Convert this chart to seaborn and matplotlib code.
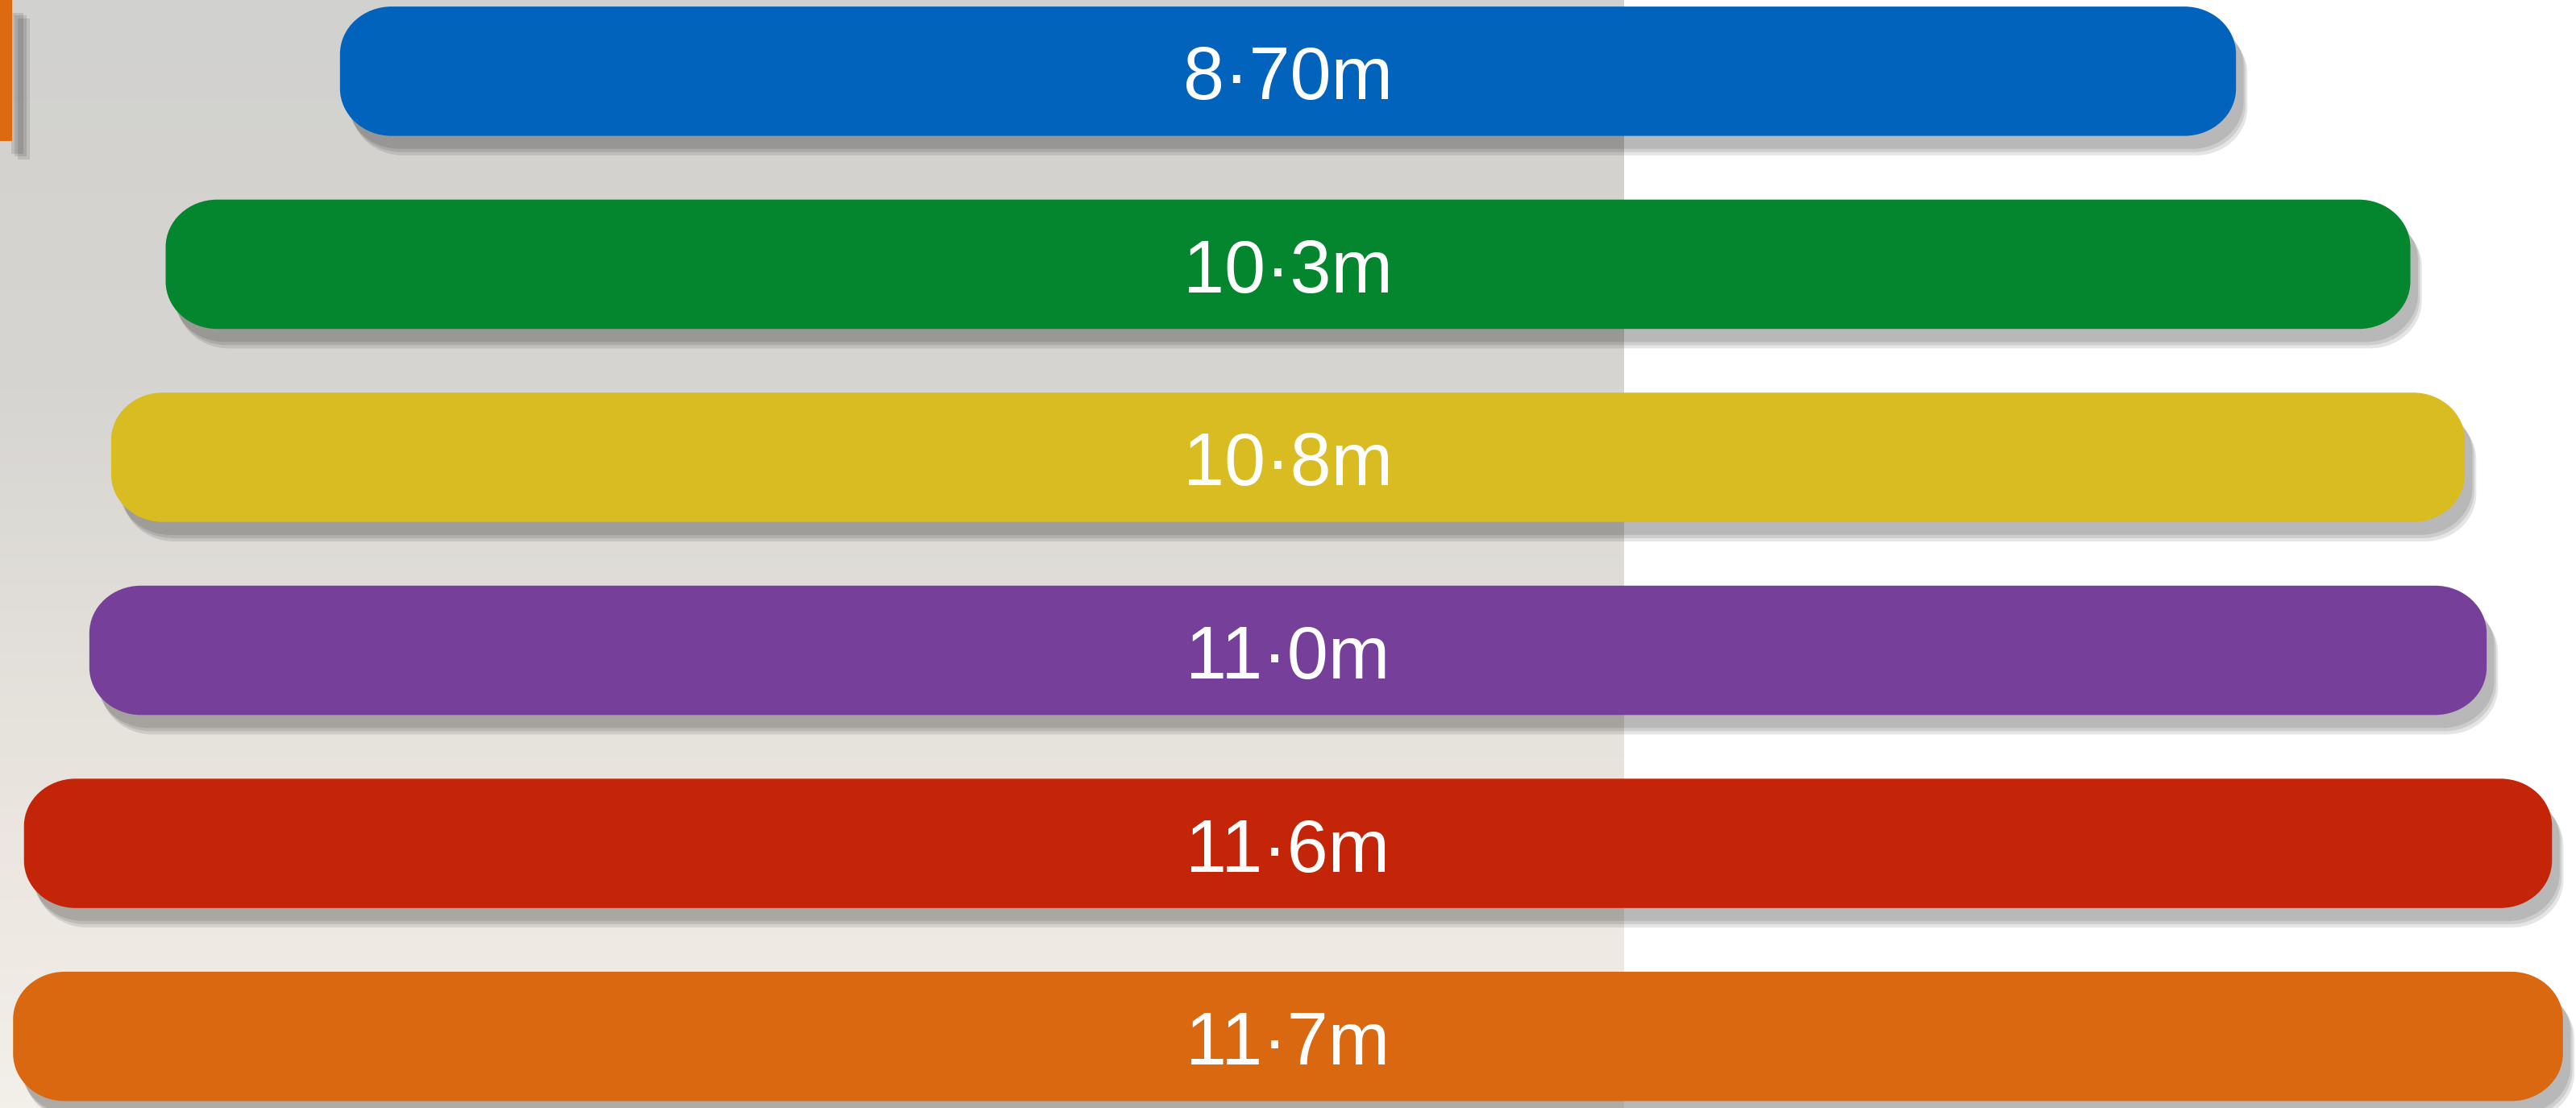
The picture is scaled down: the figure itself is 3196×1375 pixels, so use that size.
import numpy as np
import pandas as pd
import matplotlib
matplotlib.use('Agg')
import matplotlib.pyplot as plt
import matplotlib.patheffects as pe
from matplotlib.patches import PathPatch, Rectangle
from matplotlib.path import Path
from matplotlib.colors import LinearSegmentedColormap
import seaborn as sns

alturas = [8.70, 10.3, 10.8, 11.0, 11.6, 11.7]
etiquetas = ['8·70m', '10·3m', '10·8m', '11·0m', '11·6m', '11·7m']
colores = ['#0263bd', '#03862e', '#d9bb22', '#76409a', '#c42407', '#da6810']

df = pd.DataFrame({'altura': alturas, 'etiqueta': etiquetas})

sns.set_theme(style='white')
plt.rcParams['font.family'] = ['Liberation Sans', 'DejaVu Sans']

fig = plt.figure(figsize=(31.96, 13.75), dpi=100, facecolor='white')
ax = fig.add_axes([0, 0, 1, 1])

xmin, xmax = -5.91, 5.91
ymin, ymax = 5.371, -0.369


def redondeada(x0, y0, w, h, rx, ry):
    # rectangulo con esquinas de arco (beziers cubicas)
    k = 0.5523
    x1, y1 = x0 + w, y0 + h
    v = [(x0 + rx, y0), (x1 - rx, y0),
         (x1 - rx + k * rx, y0), (x1, y0 + ry - k * ry), (x1, y0 + ry),
         (x1, y1 - ry),
         (x1, y1 - ry + k * ry), (x1 - rx + k * rx, y1), (x1 - rx, y1),
         (x0 + rx, y1),
         (x0 + rx - k * rx, y1), (x0, y1 - ry + k * ry), (x0, y1 - ry),
         (x0, y0 + ry),
         (x0, y0 + ry - k * ry), (x0 + rx - k * rx, y0), (x0 + rx, y0),
         (x0 + rx, y0)]
    c = [Path.MOVETO, Path.LINETO] + [Path.CURVE4] * 3 + [Path.LINETO] + \
        [Path.CURVE4] * 3 + [Path.LINETO] + [Path.CURVE4] * 3 + [Path.LINETO] + \
        [Path.CURVE4] * 3 + [Path.CLOSEPOLY]
    return Path(v, c)


def sombras(dx, dy):
    # sombra suave: tres capas desplazadas
    capas = [pe.SimplePatchShadow(offset=(dx * f, dy * f), shadow_rgbFace='black',
                                  alpha=0.1) for f in (0.8, 1.0, 1.2)]
    return capas + [pe.Normal()]


# fondo de nubes a la izquierda (solo gradiente)
fondo = LinearSegmentedColormap.from_list(
    'fondo', [(0, '#d1d1cf'), (0.35, '#d7d5d1'), (0.55, '#e1ded9'),
              (0.75, '#ebe6df'), (1, '#f3efe9')])
grad = np.linspace(0, 1, 256).reshape(-1, 1)
ax.imshow(grad, cmap=fondo, extent=(xmin - 0.1, 1.542, ymin, ymax),
          aspect='auto', zorder=0)

sns.barplot(data=df, x='altura', y='etiqueta', hue='etiqueta', palette=colores,
            saturation=1, width=0.67, legend=False, ax=ax, zorder=2)

# barras centradas y con esquinas redondeadas
rx, ry = 0.237, 0.246
barras = list(ax.patches)
for p in barras:
    x, y, w, h = p.get_x(), p.get_y(), p.get_width(), p.get_height()
    color = p.get_facecolor()
    p.remove()
    caja = PathPatch(redondeada(-w / 2, y, w, h, rx, ry), facecolor=color,
                     edgecolor='none', zorder=2)
    caja.set_path_effects(sombras(8.5, -14.5))
    ax.add_patch(caja)

for i, et in enumerate(etiquetas):
    ax.text(0, i + 0.146, et, ha='center', va='baseline', color='white',
            fontsize=66, zorder=4)

# detalle naranja arriba a la izquierda
marca = Rectangle((0, 1 - 175 / 1375), 15 / 3196, 175 / 1375,
                  transform=fig.transFigure, facecolor='#dd6a10',
                  edgecolor='none', zorder=3, clip_on=False)
marca.set_path_effects(sombras(13, -14))
ax.add_patch(marca)

ax.set_xlim(xmin, xmax)
ax.set_ylim(ymin, ymax)
ax.axis('off')

fig.savefig('out.png', dpi=100)
